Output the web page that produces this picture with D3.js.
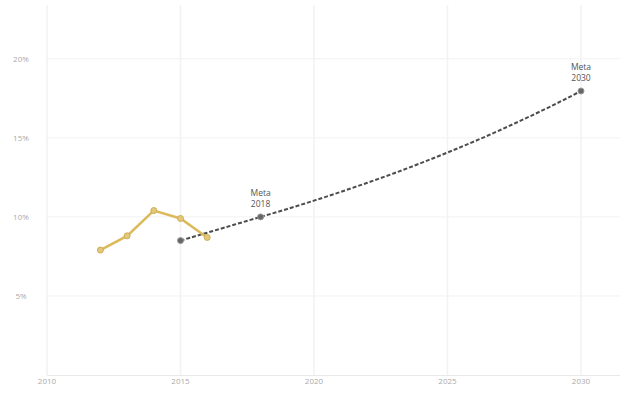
<!DOCTYPE html>
<html><head><meta charset="utf-8">
<script src="https://cdn.jsdelivr.net/npm/d3@7"></script>
<style>body{margin:0;background:#fff}svg{display:block}</style>
</head><body>
<svg id="c" width="627" height="407"></svg>
<script>
const histYears = [2012, 2013, 2014, 2015, 2016];
const histValues = [7.9, 8.8, 10.4, 9.9, 8.7];
const projYears = [2015,2016,2017,2018,2019,2020,2021,2022,2023,2024,2025,2026,2027,2028,2029,2030];
const projValues = [8.5,9.0,9.5,10.0,10.5,11.03,11.58,12.16,12.76,13.4,14.07,14.77,15.51,16.29,17.1,17.96];
const goalYears = [2015, 2018, 2030];
const goalValues = [8.5, 10.0, 17.96];
const goalLabels = [null, ["Meta","2018"], ["Meta","2030"]];
const xTicks = [2010, 2015, 2020, 2025, 2030];
const yTicks = [5, 10, 15, 20];

const svg = d3.select("#c");
const x = d3.scaleLinear().domain([2010, 2030]).range([47, 581]);
const y = d3.scaleLinear().domain([0, 23.4]).range([375, 5]);
const right = 620;

// grid
svg.append("g").selectAll("line").data(xTicks).join("line")
  .attr("x1", d => x(d)).attr("x2", d => x(d)).attr("y1", 5).attr("y2", 375)
  .attr("stroke", "#f2f2f2").attr("stroke-width", 1.5);
svg.append("g").selectAll("line").data(yTicks).join("line")
  .attr("x1", 47).attr("x2", right).attr("y1", d => y(d)).attr("y2", d => y(d))
  .attr("stroke", "#f2f2f2").attr("stroke-width", 1);
svg.append("line").attr("x1", 47).attr("x2", right).attr("y1", 375.5).attr("y2", 375.5)
  .attr("stroke", "#e8e8e8");

// axes labels
svg.append("g").selectAll("text").data(yTicks).join("text")
  .attr("x", 21).attr("y", d => y(d) + 3).attr("text-anchor", "middle")
  .attr("font-family", "Open Sans, sans-serif").attr("font-size", 8).attr("fill", "#aaa")
  .text(d => d + "%");
svg.append("g").selectAll("text").data(xTicks).join("text")
  .attr("x", d => x(d)).attr("y", 384).attr("text-anchor", "middle")
  .attr("font-family", "Open Sans, sans-serif").attr("font-size", 8).attr("fill", "#aaa")
  .text(d => d);

// projection dashed line
const projPts = projYears.map((d, i) => [d, projValues[i]]);
svg.append("path").datum(projPts)
  .attr("d", d3.line().x(d => x(d[0])).y(d => y(d[1])).curve(d3.curveMonotoneX))
  .attr("fill", "none").attr("stroke", "#4d4d4d").attr("stroke-width", 2)
  .attr("stroke-dasharray", "4,2");

// historical line
const histPts = histYears.map((d, i) => [d, histValues[i]]);
svg.append("path").datum(histPts)
  .attr("d", d3.line().x(d => x(d[0])).y(d => y(d[1])))
  .attr("fill", "none").attr("stroke", "#dcb95a").attr("stroke-width", 2.5);
svg.append("g").selectAll("circle").data(histPts).join("circle")
  .attr("cx", d => x(d[0])).attr("cy", d => y(d[1])).attr("r", 3)
  .attr("fill", "#e3c77a").attr("stroke", "#cfae55").attr("stroke-width", 1);

// goal markers
const goalPts = goalYears.map((d, i) => [d, goalValues[i], goalLabels[i]]);
svg.append("g").selectAll("circle").data(goalPts).join("circle")
  .attr("cx", d => x(d[0])).attr("cy", d => y(d[1])).attr("r", 3)
  .attr("fill", "#666").attr("stroke", "#999").attr("stroke-width", 1);
const lblG = svg.append("g").selectAll("g").data(goalPts.filter(d => d[2])).join("g");
lblG.append("text")
  .attr("x", d => x(d[0])).attr("y", d => y(d[1]) - 21).attr("text-anchor", "middle")
  .attr("font-family", "Open Sans, sans-serif").attr("font-size", 8.5).attr("fill", "#555")
  .text(d => d[2][0]);
lblG.append("text")
  .attr("x", d => x(d[0])).attr("y", d => y(d[1]) - 10).attr("text-anchor", "middle")
  .attr("font-family", "Open Sans, sans-serif").attr("font-size", 8.5).attr("fill", "#555")
  .text(d => d[2][1]);
</script>
</body></html>
